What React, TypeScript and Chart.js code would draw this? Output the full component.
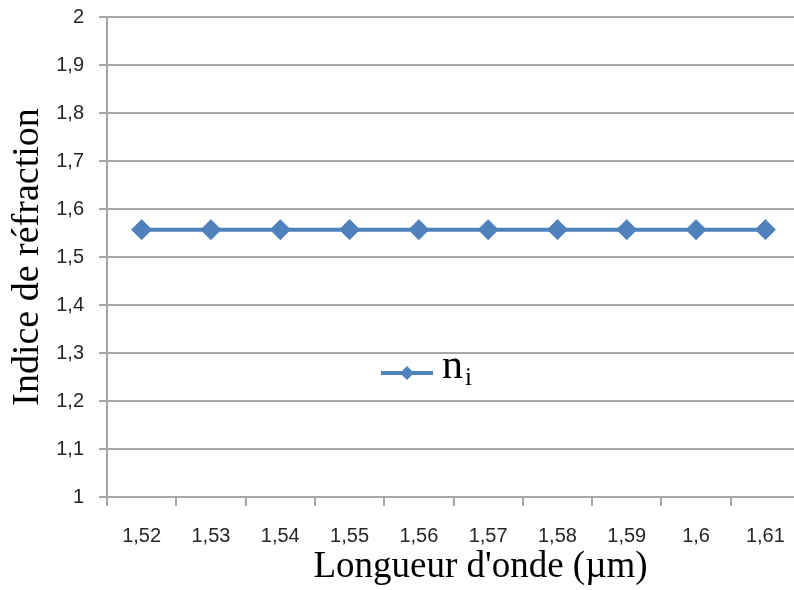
import React, { useEffect, useRef } from "react";
import { Chart, registerables } from "chart.js";

Chart.register(...registerables);

// ---- data ----
const categories: string[] = ["1,52", "1,53", "1,54", "1,55", "1,56", "1,57", "1,58", "1,59", "1,6", "1,61"];
const niValues: number[] = [1.557, 1.557, 1.557, 1.557, 1.557, 1.557, 1.557, 1.557, 1.557, 1.557];
const seriesLabel = "nᵢ";
const legendMain = "n";
const legendSub = "i";
const yMin = 1;
const yMax = 2;
const yStep = 0.1;
const xTitle = "Longueur d'onde (µm)";
const yTitle = "Indice de réfraction";

const BLUE = "#4f81bd";
const GRID = "#a6a6a6";

const legendPlugin = {
  id: "innerLegend",
  afterLayout(chart: any, _args: any, opts: any) {
    const s = chart.scales.x;
    if (s && !s.__titlePatched) {
      const orig = s.drawTitle.bind(s);
      const shift = opts.xTitleShift || 0;
      s.drawTitle = function () {
        const L = this.left;
        const R = this.right;
        this.left = L + shift;
        this.right = R + shift;
        orig();
        this.left = L;
        this.right = R;
      };
      s.__titlePatched = true;
    }
  },
  afterDraw(chart: any, _args: any, opts: any) {
    const ctx = chart.ctx;
    const { x, y, lineLen, main, sub, color } = opts;
    ctx.save();
    ctx.strokeStyle = color;
    ctx.lineWidth = 4;
    ctx.beginPath();
    ctx.moveTo(x, y);
    ctx.lineTo(x + lineLen, y);
    ctx.stroke();
    const cx = x + lineLen / 2;
    const r = 7;
    ctx.fillStyle = color;
    ctx.beginPath();
    ctx.moveTo(cx, y - r);
    ctx.lineTo(cx + r, y);
    ctx.lineTo(cx, y + r);
    ctx.lineTo(cx - r, y);
    ctx.closePath();
    ctx.fill();
    ctx.fillStyle = "#000";
    ctx.textBaseline = "alphabetic";
    ctx.textAlign = "left";
    ctx.font = "42px 'Liberation Serif', 'Times New Roman', serif";
    const tx = x + lineLen + 9;
    ctx.fillText(main, tx, y + 5);
    const w = ctx.measureText(main).width;
    ctx.font = "25px 'Liberation Serif', 'Times New Roman', serif";
    ctx.fillText(sub, tx + w + 2, y + 12);
    ctx.restore();
  },
};

export default function App() {
  const ref = useRef<HTMLCanvasElement | null>(null);

  useEffect(() => {
    if (!ref.current) return;
    const chart = new Chart(ref.current, {
      type: "line",
      data: {
        labels: categories,
        datasets: [
          {
            label: seriesLabel,
            data: niValues,
            borderColor: BLUE,
            backgroundColor: BLUE,
            borderWidth: 4,
            pointStyle: "rectRot",
            pointRadius: 10,
            pointBackgroundColor: BLUE,
            pointBorderColor: BLUE,
            pointBorderWidth: 1,
            tension: 0,
          },
        ],
      },
      plugins: [legendPlugin],
      options: {
        animation: false,
        responsive: true,
        maintainAspectRatio: false,
        layout: { padding: { top: 17, right: 0, bottom: 0, left: 0 } },
        plugins: {
          legend: { display: false },
          tooltip: { enabled: false },
          innerLegend: { x: 381, y: 373, lineLen: 52, main: legendMain, sub: legendSub, color: BLUE, xTitleShift: 27 },
        } as any,
        scales: {
          x: {
            type: "category",
            offset: true,
            grid: {
              display: true,
              offset: true,
              drawOnChartArea: false,
              drawTicks: true,
              tickLength: 9,
              color: GRID,
              lineWidth: 2,
            },
            border: { display: true, color: GRID, width: 2 },
            ticks: {
              padding: 18,
              maxRotation: 0,
              autoSkip: false,
              color: "#262626",
              font: { family: "'Liberation Sans', Arial, sans-serif", size: 20 },
            },
            title: {
              display: true,
              text: xTitle,
              color: "#000",
              font: { family: "'Liberation Serif', 'Times New Roman', serif", size: 37 },
              padding: { top: 0, bottom: 1 },
            },
            afterFit: (scale: any) => {
              scale.height = 93;
              scale.paddingLeft = 0;
              scale.paddingRight = 0;
            },
          },
          y: {
            type: "linear",
            min: yMin,
            max: yMax,
            ticks: {
              stepSize: yStep,
              padding: 15,
              color: "#262626",
              font: { family: "'Liberation Sans', Arial, sans-serif", size: 20 },
              callback: (v: any) => String(Math.round(Number(v) * 10) / 10).replace(".", ","),
            },
            grid: {
              color: GRID,
              lineWidth: 2,
              drawTicks: true,
              tickLength: 8,
            },
            border: { display: true, color: GRID, width: 2 },
            title: {
              display: true,
              text: yTitle,
              color: "#000",
              font: { family: "'Liberation Serif', 'Times New Roman', serif", size: 38 },
              padding: { top: 5, bottom: 0 },
            },
            afterFit: (scale: any) => {
              scale.width = 107;
              scale.paddingTop = 0;
              scale.paddingBottom = 0;
            },
          },
        },
      },
    } as any);
    return () => chart.destroy();
  }, []);

  return (
    <div
      style={{
        position: "fixed",
        left: 0,
        top: 0,
        width: 794,
        height: 590,
        overflow: "hidden",
        background: "#fff",
      }}
    >
      <div style={{ position: "relative", width: 811, height: 590 }}>
        <canvas ref={ref} />
      </div>
    </div>
  );
}
